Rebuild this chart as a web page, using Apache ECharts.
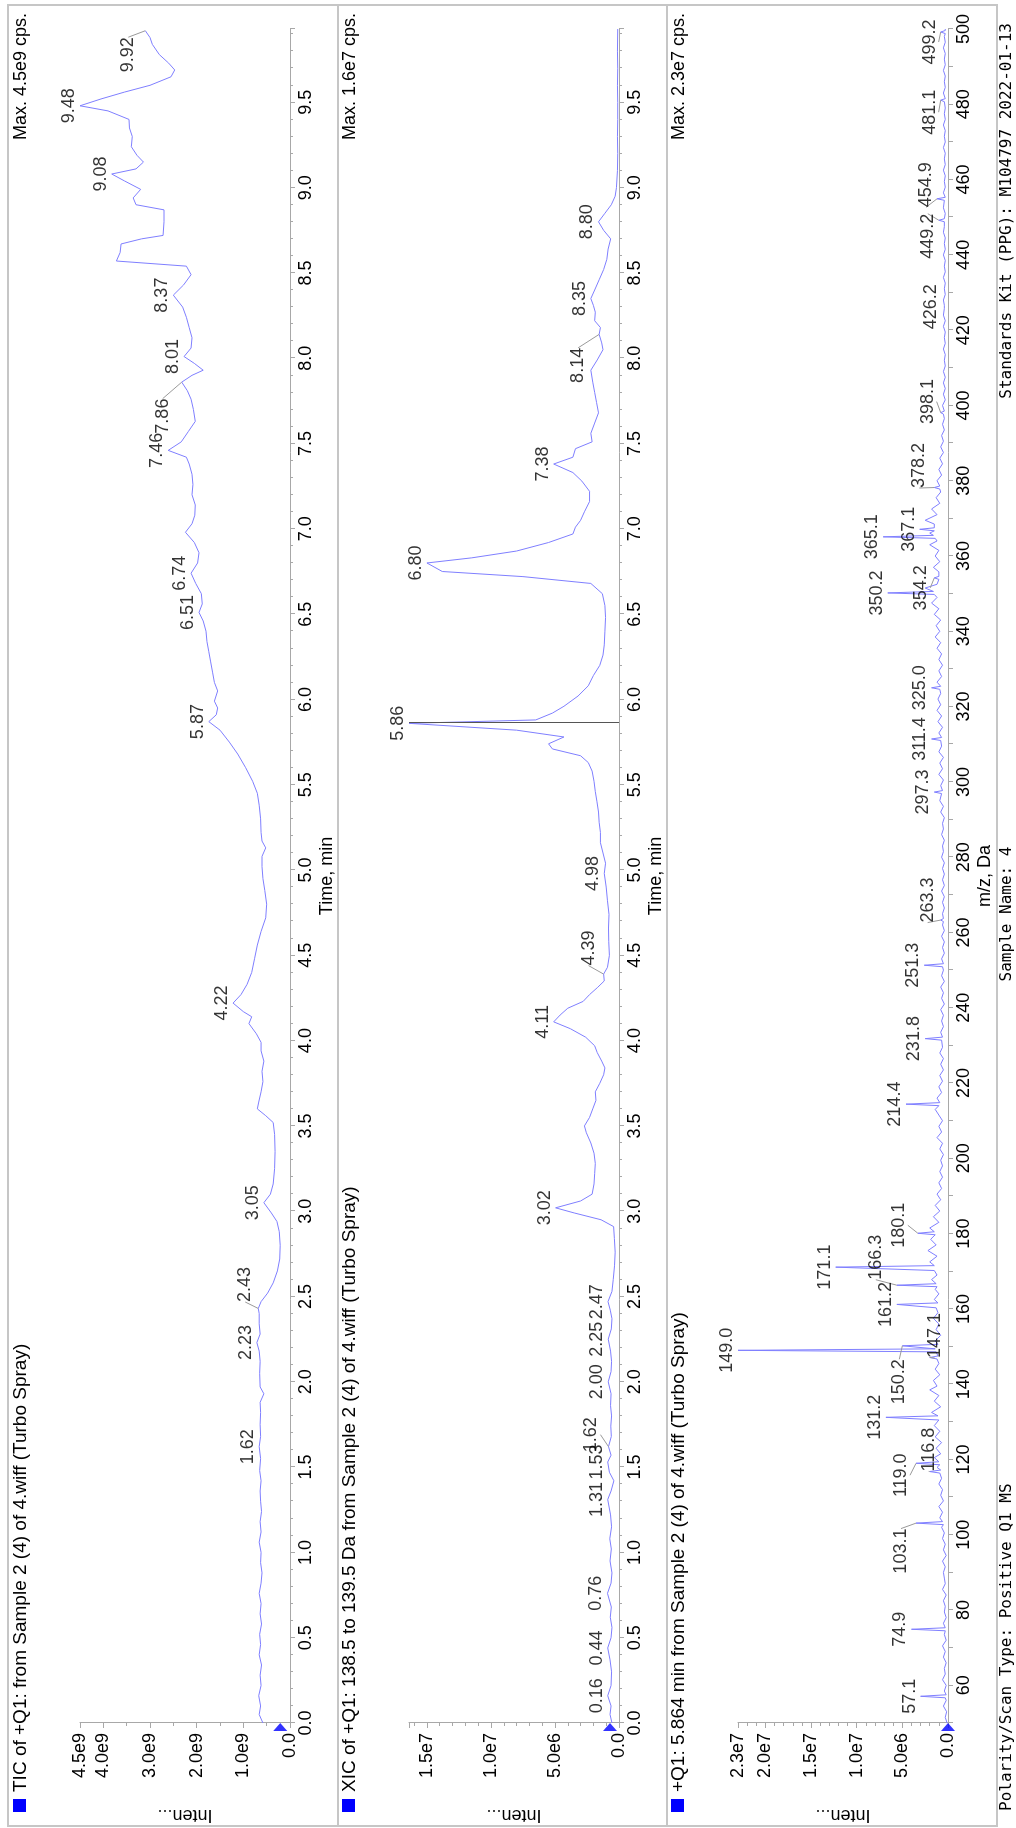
<!DOCTYPE html>
<html>
<head>
<meta charset="utf-8">
<script src="https://cdn.jsdelivr.net/npm/echarts@6/dist/echarts.min.js"></script>
<style>
  html, body { margin: 0; padding: 0; background: #fff; width: 1016px; height: 1828px; overflow: hidden; }
  /* the report is laid out landscape and turned a quarter turn counter-clockwise */
  #chart { position: absolute; left: 0; top: 0; width: 1828px; height: 1016px;
           transform-origin: 0 0; transform: translate(0, 1828px) rotate(-90deg); }
</style>
</head>
<body>
<div id="chart"></div>
<script>
// ---------------- data ----------------
const TIME_MAX = 9.93;
const SCAN_TIME = 5.864;

// TIC, intensity in 1e9 cps
const ticTrace = [
  [0.00,0.58],[0.05,0.66],[0.10,0.63],[0.16,0.67],[0.22,0.62],[0.28,0.64],[0.34,0.61],[0.40,0.66],
  [0.46,0.63],[0.52,0.65],[0.58,0.61],[0.64,0.64],[0.70,0.62],[0.76,0.66],[0.82,0.62],[0.88,0.60],
  [0.94,0.63],[1.00,0.62],[1.06,0.66],[1.12,0.62],[1.18,0.64],[1.24,0.61],[1.30,0.63],[1.36,0.64],
  [1.42,0.62],[1.48,0.65],[1.55,0.63],[1.62,0.66],[1.68,0.63],[1.75,0.64],[1.82,0.63],[1.88,0.64],
  [1.93,0.56],[1.97,0.64],[2.05,0.65],[2.12,0.64],[2.18,0.66],[2.23,0.71],[2.28,0.64],[2.34,0.66],
  [2.40,0.66],[2.43,0.68],[2.47,0.62],[2.52,0.48],[2.58,0.36],[2.65,0.27],[2.72,0.22],[2.80,0.21],
  [2.88,0.23],[2.94,0.28],[2.99,0.40],[3.05,0.56],[3.10,0.42],[3.16,0.36],[3.25,0.33],[3.35,0.32],
  [3.45,0.33],[3.52,0.36],[3.56,0.52],[3.60,0.70],[3.64,0.67],[3.70,0.62],[3.76,0.58],[3.82,0.60],
  [3.88,0.56],[3.94,0.62],[3.99,0.62],[4.04,0.72],[4.10,0.88],[4.14,0.82],[4.17,1.00],[4.22,1.22],
  [4.27,1.05],[4.33,0.92],[4.40,0.82],[4.48,0.76],[4.56,0.70],[4.64,0.62],[4.72,0.52],[4.80,0.50],
  [4.88,0.54],[4.95,0.58],[5.02,0.60],[5.08,0.60],[5.13,0.52],[5.17,0.60],[5.22,0.62],[5.30,0.63],
  [5.38,0.66],[5.45,0.70],[5.52,0.80],[5.60,0.95],[5.68,1.12],[5.75,1.30],[5.82,1.50],[5.87,1.74],
  [5.91,1.58],[5.95,1.55],[5.99,1.62],[6.05,1.55],[6.10,1.62],[6.16,1.66],[6.22,1.70],[6.28,1.74],
  [6.34,1.78],[6.40,1.80],[6.46,1.86],[6.51,1.95],[6.56,1.88],[6.62,1.90],[6.68,2.02],[6.74,2.12],
  [6.80,1.98],[6.86,1.95],[6.92,2.05],[6.98,2.24],[7.03,2.10],[7.08,2.04],[7.14,2.03],[7.20,2.10],
  [7.26,2.08],[7.32,2.10],[7.38,2.16],[7.42,2.22],[7.46,2.61],[7.51,2.33],[7.57,2.18],[7.63,2.03],
  [7.70,2.07],[7.76,2.12],[7.81,2.20],[7.86,2.32],[7.90,2.10],[7.93,1.86],[7.97,2.05],[8.01,2.27],
  [8.06,2.12],[8.12,2.10],[8.18,2.16],[8.24,2.22],[8.30,2.30],[8.37,2.50],[8.43,2.28],[8.49,2.12],
  [8.54,2.22],[8.57,3.72],[8.62,3.64],[8.67,3.62],[8.70,3.18],[8.72,2.72],[8.80,2.70],[8.87,2.70],
  [8.90,3.30],[8.94,3.36],[8.99,3.20],[9.04,3.55],[9.08,3.82],[9.11,3.30],[9.15,3.14],[9.19,3.28],
  [9.24,3.40],[9.30,3.38],[9.35,3.44],[9.40,3.45],[9.45,3.90],[9.48,4.50],[9.52,4.05],[9.56,3.55],
  [9.60,3.00],[9.65,2.55],[9.69,2.47],[9.73,2.60],[9.78,2.80],[9.84,2.95],[9.88,3.00],[9.92,3.10]
];
const ticPeaks = [1.62, 2.23, 2.43, 3.05, 4.22, 5.87, 6.51, 6.74, 7.46, 7.86, 8.01, 8.37, 9.08, 9.48, 9.92];

// XIC 138.5-139.5 Da, intensity in 1e6 cps
const xicTrace = [
  [0.00,0.55],[0.05,0.70],[0.10,0.62],[0.16,0.88],[0.22,0.62],[0.30,0.58],[0.37,0.70],[0.44,0.88],
  [0.50,0.62],[0.56,0.55],[0.62,0.68],[0.68,0.60],[0.76,0.90],[0.82,0.62],[0.88,0.55],[0.95,0.70],
  [1.02,0.60],[1.08,0.72],[1.15,0.58],[1.22,0.66],[1.31,0.88],[1.36,0.62],[1.42,0.40],[1.47,0.75],
  [1.53,0.88],[1.57,0.62],[1.62,0.82],[1.68,0.60],[1.74,0.64],[1.80,0.58],[1.86,0.66],[1.93,0.62],
  [2.00,0.84],[2.06,0.62],[2.12,0.58],[2.18,0.66],[2.25,0.84],[2.31,0.60],[2.37,0.55],[2.42,0.68],
  [2.47,0.86],[2.53,0.55],[2.60,0.45],[2.68,0.35],[2.76,0.30],[2.84,0.36],[2.91,0.42],[2.95,1.40],
  [2.99,3.50],[3.02,4.95],[3.06,3.00],[3.10,2.10],[3.16,1.95],[3.22,1.90],[3.28,1.85],[3.34,1.95],
  [3.40,2.20],[3.46,2.55],[3.50,2.70],[3.55,2.30],[3.60,2.05],[3.65,1.80],[3.70,1.85],[3.75,1.50],
  [3.80,1.20],[3.84,1.10],[3.88,1.35],[3.93,1.70],[3.97,1.90],[4.02,2.60],[4.07,3.80],[4.11,5.10],
  [4.15,4.60],[4.19,4.00],[4.23,2.80],[4.27,2.30],[4.31,1.70],[4.35,1.15],[4.39,1.20],[4.43,0.90],
  [4.50,0.75],[4.58,0.80],[4.66,0.82],[4.74,0.78],[4.82,0.90],[4.90,1.00],[4.98,1.15],[5.04,1.05],
  [5.10,1.25],[5.16,1.45],[5.22,1.45],[5.28,1.55],[5.34,1.60],[5.40,1.72],[5.46,1.85],[5.52,1.95],
  [5.58,2.10],[5.63,2.40],[5.67,3.00],[5.71,5.20],[5.74,5.50],[5.78,4.30],[5.82,8.00],[5.86,16.40],
  [5.88,6.50],[5.92,5.20],[5.96,4.30],[6.02,3.20],[6.08,2.40],[6.14,2.00],[6.20,1.50],[6.26,1.25],
  [6.32,1.15],[6.40,1.10],[6.48,1.05],[6.55,1.10],[6.62,1.30],[6.68,2.20],[6.72,7.50],[6.75,13.80],
  [6.80,15.00],[6.83,11.50],[6.87,8.00],[6.92,5.50],[6.97,3.60],[7.01,3.40],[7.05,3.00],[7.10,2.70],
  [7.16,2.30],[7.22,2.30],[7.28,2.90],[7.33,3.60],[7.38,5.10],[7.42,3.60],[7.47,3.40],[7.51,2.10],
  [7.56,2.20],[7.62,1.90],[7.68,1.60],[7.74,1.75],[7.80,1.90],[7.86,2.05],[7.93,2.20],[7.99,1.70],
  [8.05,1.25],[8.09,1.35],[8.14,1.55],[8.18,1.45],[8.22,1.90],[8.27,1.85],[8.31,2.00],[8.35,2.20],
  [8.40,1.90],[8.46,1.55],[8.52,1.20],[8.58,0.95],[8.64,0.85],[8.70,0.65],[8.75,1.20],[8.80,1.60],
  [8.85,1.10],[8.90,0.60],[8.95,0.30],[9.00,0.20],[9.10,0.12],[9.20,0.10],[9.30,0.12],[9.40,0.10],
  [9.50,0.10],[9.60,0.12],[9.70,0.10],[9.80,0.12],[9.93,0.10]
];
const xicPeaks = [0.16, 0.44, 0.76, 1.31, 1.53, 1.62, 2.00, 2.25, 2.47, 3.02, 4.11, 4.39, 4.98, 5.86, 6.80, 7.38, 8.14, 8.35, 8.80];

// Q1 spectrum at 5.864 min, intensity in 1e6 cps: labelled peaks and the rest of the profile
const msPeaks = [
  [57.1,3.0],[74.9,4.0],[103.1,3.5],[116.8,2.0],[119.0,3.5],[131.2,6.8],[147.1,2.0],[149.0,23.0],
  [150.2,5.0],[161.2,5.6],[166.3,5.6],[171.1,12.3],[180.1,3.3],[214.4,4.6],[231.8,2.5],[251.3,2.6],
  [263.3,0.8],[297.3,1.5],[311.4,1.8],[325.0,1.8],[350.2,6.6],[354.2,1.5],[365.1,7.1],[367.1,3.1],
  [378.2,1.5],[398.1,0.8],[426.2,0.6],[449.2,1.0],[454.9,1.2],[481.1,0.8],[499.2,0.8]
];
const msProfile = [
  [50.0,0.1],[51.5,0.3],[53,0.15],[54.5,0.5],[56,0.2],[56.7,0.3],[57.5,0.2],[58.5,0.4],[60,0.2],[61.5,0.6],
  [63,0.3],[64.5,0.4],[66,0.2],[67.5,0.5],[69,0.3],[70.5,0.6],[72,0.2],[73.5,0.4],[74.5,0.3],[75.3,0.3],
  [76.5,0.5],[78,0.2],[79.5,0.4],[81,0.3],[82.5,0.5],[84,0.2],[85.5,0.6],[87,0.3],[88.5,0.4],[90,0.5],
  [91.5,0.3],[93,0.6],[94.5,0.2],[96,0.5],[97.5,0.3],[99,0.6],[100.5,0.4],[102,0.7],[102.7,0.5],[103.5,0.6],
  [104.5,0.9],[106,0.6],[107.5,1.0],[109,0.5],[110.5,0.8],[112,0.6],[113.5,1.0],[115,0.7],[116.4,0.9],[117.2,0.8],
  [117.9,1.2],[118.6,0.9],[119.4,1.0],[120.5,1.5],[121.5,0.8],[123,1.3],[124.5,0.7],[126,1.4],[127.5,0.9],[129,1.5],
  [130.5,1.0],[130.8,1.2],[131.6,1.1],[132.5,1.8],[134,0.8],[135.5,1.5],[137,1.0],[138.5,2.0],[139.5,1.2],[141,1.6],
  [142.5,0.9],[144,1.4],[145.5,1.0],[146.7,1.2],[147.5,1.1],[148.6,1.3],[149.4,1.4],[149.8,1.2],[150.6,1.1],[151.5,1.4],
  [153,0.8],[154.5,1.3],[156,1.0],[157.5,1.6],[159,1.1],[160.3,1.3],[160.8,1.2],[161.6,1.1],[162.5,1.5],[164,1.0],
  [165.2,1.4],[165.9,1.2],[166.7,1.3],[167.8,1.8],[169,1.2],[170.2,1.5],[170.7,1.4],[171.5,1.5],[172.5,2.0],[174,1.2],
  [175.5,2.2],[177,1.3],[178.5,1.9],[179.7,1.4],[180.5,1.5],[181.5,2.0],[183,1.0],[184.5,1.6],[186,0.9],[187.5,1.4],
  [189,0.8],[190.5,1.2],[192,0.7],[193.5,1.0],[195,0.6],[196.5,0.9],[198,0.6],[199.5,0.8],[201,0.5],[202.5,0.9],
  [204,0.6],[205.5,1.2],[207,0.7],[208.5,1.0],[210,0.6],[211.5,1.0],[213,1.4],[214.0,1.0],[214.8,0.9],[216,1.2],
  [217.5,0.7],[219,1.0],[220.5,0.6],[222,0.9],[223.5,0.5],[225,0.8],[226.5,0.5],[228,0.9],[229.5,0.6],[231.4,0.7],
  [232.2,0.6],[233.5,0.8],[235,0.5],[236.5,0.7],[238,0.5],[239.5,0.8],[241,0.4],[242.5,0.7],[244,0.5],[245.5,0.8],
  [247,0.4],[248.5,0.7],[250,0.5],[250.9,0.6],[251.7,0.5],[253,0.7],[254.5,0.4],[256,0.6],[257.5,0.4],[259,0.7],
  [260.5,0.4],[262,0.6],[262.9,0.5],[263.7,0.5],[265,0.6],[266.5,0.4],[268,0.6],[269.5,0.4],[271,0.7],[272.5,0.4],
  [274,0.6],[275.5,0.4],[277,0.6],[278.5,0.4],[280,0.7],[281.5,0.5],[283,0.6],[284.5,0.4],[286,0.7],[287.5,0.5],
  [289,0.6],[290.5,0.4],[292,0.8],[293.5,0.5],[295,0.9],[296.9,0.7],[297.7,0.6],[299,0.8],[300.5,0.5],[302,1.0],
  [303.5,0.6],[305,0.9],[306.5,0.5],[308,1.0],[309.5,0.7],[311.0,0.8],[311.8,0.7],[313,1.0],[314.5,0.6],[316,1.1],
  [317.5,0.7],[319,1.2],[320.5,0.8],[322,1.1],[323.5,0.8],[324.6,0.9],[325.4,0.8],[326.5,1.2],[328,0.7],[329.5,1.0],
  [331,0.6],[332.5,1.0],[334,0.7],[335.5,1.2],[337,0.8],[338.5,1.4],[340,0.9],[341.5,1.3],[343,0.8],[344.5,1.5],
  [346,1.0],[347.5,1.8],[349,1.2],[349.8,1.5],[350.6,1.6],[351.5,2.5],[352.5,1.2],[353.8,1.0],[354.6,1.0],[355.8,1.0],
  [357,1.6],[358.5,0.9],[360,1.4],[361.5,1.0],[363,2.0],[364,1.2],[364.7,1.4],[365.5,1.6],[366.1,2.0],[366.7,1.5],
  [367.5,1.5],[368.5,1.5],[369.5,2.5],[371,1.2],[372.5,1.8],[374,0.9],[375.5,1.3],[377,0.8],[377.8,0.9],[378.6,0.9],
  [380,1.2],[381.5,0.7],[383,1.0],[384.5,0.6],[386,0.9],[387.5,0.5],[389,0.8],[390.5,0.5],[392,0.7],[393.5,0.4],
  [395,0.6],[396.5,0.4],[397.7,0.5],[398.5,0.4],[400,0.6],[401.5,0.3],[403,0.5],[404.5,0.3],[406,0.5],[407.5,0.3],
  [409,0.5],[410.5,0.3],[412,0.4],[413.5,0.3],[415,0.5],[416.5,0.3],[418,0.4],[419.5,0.3],[421,0.5],[422.5,0.3],
  [424,0.5],[425.8,0.4],[426.6,0.4],[428,0.5],[429.5,0.3],[431,0.4],[432.5,0.3],[434,0.5],[435.5,0.3],[437,0.4],
  [438.5,0.3],[440,0.5],[441.5,0.3],[443,0.4],[444.5,0.3],[446,0.5],[447.5,0.4],[448.8,0.4],[449.6,0.4],[451,0.3],
  [452.5,0.5],[454.5,0.4],[455.3,0.3],[456.5,0.5],[458,0.3],[459.5,0.4],[461,0.3],[462.5,0.5],[464,0.3],[465.5,0.4],
  [467,0.3],[468.5,0.5],[470,0.3],[471.5,0.4],[473,0.3],[474.5,0.5],[476,0.3],[477.5,0.4],[479,0.3],[480.7,0.4],
  [481.5,0.3],[483,0.5],[484.5,0.3],[486,0.4],[487.5,0.3],[489,0.5],[490.5,0.3],[492,0.4],[493.5,0.3],[495,0.5],
  [496.5,0.3],[498,0.4],[498.8,0.3],[499.6,0.3],[500,0.3]
];

const panelTitles = [
  'TIC of +Q1: from Sample 2 (4) of 4.wiff (Turbo Spray)',
  'XIC of +Q1: 138.5 to 139.5 Da from Sample 2 (4) of 4.wiff (Turbo Spray)',
  '+Q1: 5.864 min from Sample 2 (4) of 4.wiff (Turbo Spray)'
];
const maxNotes = ['Max. 4.5e9 cps.', 'Max. 1.6e7 cps.', 'Max. 2.3e7 cps.'];
const footerLeft = 'Polarity/Scan Type: Positive Q1 MS';
const footerMid = 'Sample Name: 4';
const footerRight = 'Standards Kit (PPG): M104797 2022-01-13';

// ---------------- layout ----------------
const W = 1828, H = 1016;
const PITCH = 329;
const GRID_LEFT = 105, GRID_RIGHT = 29, GRID_TOP = 80, GRID_H = 210;
const FONT = '"Liberation Sans", Arial, sans-serif';
const MONO = '"DejaVu Sans Mono", monospace';
const TRACE = '#7f7fff';
const AXIS = '#a8a8a8';
const FRAME = '#c6c6c6';

// label nudges (px) for crowded peak labels, drawn with a leader line
const ticNudge = { '2.43': [24, -2], '7.86': [-34, -8], '9.92': [-24, -6] };
const xicNudge = { '1.62': [12, -6], '4.39': [26, -4], '8.14': [-31, -10] };
const msNudge = {
  '103.1': [-28, -4], '116.8': [22, 10], '119.0': [-12, -4], '147.1': [22, 16], '150.2': [-36, 8],
  '166.3': [28, -10], '180.1': [8, -8], '263.3': [20, -2], '354.2': [-10, -2], '378.2': [22, -4],
  '398.1': [11, -2], '449.2': [-16, 0], '454.9': [14, 0], '481.1': [-12, 0], '499.2': [-10, 0]
};

// ---------------- helpers ----------------
const timeLabel = v => (Math.abs(v * 2 - Math.round(v * 2)) < 1e-6 ? v.toFixed(1) : '');
const sci6 = v => (v >= 10 ? (v / 10).toFixed(1) + 'e7' : v.toFixed(1) + 'e6');
const intensityLabels = [
  v => (v === 0 ? '0.0' : v.toFixed(1) + 'e9'),
  v => (v === 0 ? '0.0' : (Math.abs(v % 5) > 1e-9 ? '' : sci6(v))),
  v => (v === 0 ? '0.0' : sci6(v))
];
const intensityAxes = [
  { max: 4.5, interval: 1, minor: 2 },
  { max: 16.4, interval: 5, minor: 5 },
  { max: 23, interval: 5, minor: 5 }
];

function pointAt(trace, x) {
  const p = trace.find(q => Math.abs(q[0] - x) < 1e-9);
  return [x, p ? p[1] : 0];
}

function labelSeries(idx, trace, xs, digits, nudge) {
  const plain = [], moved = [], offs = [];
  xs.forEach(x => {
    const key = x.toFixed(digits);
    const pt = pointAt(trace, x);
    if (nudge[key]) { moved.push(pt); offs.push(nudge[key]); } else plain.push(pt);
  });
  const base = {
    type: 'scatter', xAxisIndex: idx, yAxisIndex: idx, symbol: 'circle', symbolSize: 0.1,
    itemStyle: { color: 'rgba(0,0,0,0)' }, silent: true, clip: false, z: 5,
    label: {
      show: true, position: 'top', distance: 2, color: '#000', fontSize: 18, fontFamily: FONT,
      formatter: p => p.value[0].toFixed(digits)
    }
  };
  return [
    Object.assign({}, base, { data: plain }),
    Object.assign({}, base, {
      data: moved,
      labelLayout: p => ({ dx: offs[p.dataIndex][0], dy: offs[p.dataIndex][1] }),
      labelLine: { show: true, lineStyle: { color: '#9a9a9a', width: 1 } }
    })
  ];
}

function triangle(idx, y) {
  return {
    type: 'scatter', xAxisIndex: idx, yAxisIndex: idx, data: [[idx === 2 ? 50 : 0, y]],
    symbol: 'triangle', symbolSize: [14, 8], symbolRotate: -90, symbolOffset: [-4, 0],
    itemStyle: { color: '#0000ff' }, clip: false, silent: true, z: 6
  };
}

// ---------------- option ----------------
const grids = [0, 1, 2].map(i => ({
  left: GRID_LEFT, right: GRID_RIGHT, top: GRID_TOP + PITCH * i, height: GRID_H,
  containLabel: false, outerBoundsMode: 'none'
}));

const commonX = {
  type: 'value',
  axisLine: { show: true, onZero: false, lineStyle: { color: AXIS, width: 1 } },
  axisTick: { show: true, length: 5, lineStyle: { color: AXIS } },
  splitLine: { show: false },
  axisLabel: { color: '#000', fontSize: 18, fontFamily: FONT, margin: 7 },
  nameLocation: 'middle', nameGap: 28,
  nameTextStyle: { color: '#000', fontSize: 18, fontFamily: FONT }
};

const xAxes = [0, 1].map(i => Object.assign({}, commonX, {
  gridIndex: i, min: 0, max: TIME_MAX, interval: 0.5, name: 'Time, min',
  minorTick: { show: true, splitNumber: 5, length: 3, lineStyle: { color: AXIS } },
  axisLabel: Object.assign({}, commonX.axisLabel, { formatter: timeLabel })
}));
xAxes.push(Object.assign({}, commonX, {
  gridIndex: 2, min: 50, max: 500, interval: 10, name: 'm/z, Da',
  axisLabel: Object.assign({}, commonX.axisLabel, { formatter: v => (v % 20 === 0 ? String(v) : '') })
}));

const yAxes = [0, 1, 2].map(i => ({
  type: 'value', gridIndex: i, min: 0, max: intensityAxes[i].max, interval: intensityAxes[i].interval,
  axisLine: { show: true, onZero: false, lineStyle: { color: AXIS, width: 1 } },
  axisTick: { show: true, length: 5, lineStyle: { color: AXIS } },
  minorTick: { show: true, splitNumber: intensityAxes[i].minor, length: 3, lineStyle: { color: AXIS } },
  splitLine: { show: false },
  axisLabel: { color: '#000', fontSize: 18, fontFamily: FONT, margin: 10, formatter: intensityLabels[i] },
  name: 'Inten...', nameLocation: 'middle', nameRotate: 90, nameGap: 83,
  nameTextStyle: { color: '#000', fontSize: 18, fontFamily: FONT }
}));

const lineBase = { type: 'line', symbol: 'none', smooth: false, lineStyle: { color: TRACE, width: 1 }, silent: true, z: 3 };

const msTrace = msProfile.concat(msPeaks).sort((a, b) => a[0] - b[0]);

const series = [
  Object.assign({}, lineBase, { xAxisIndex: 0, yAxisIndex: 0, data: ticTrace }),
  ...labelSeries(0, ticTrace, ticPeaks, 2, ticNudge),
  triangle(0, 0.21),
  Object.assign({}, lineBase, {
    xAxisIndex: 1, yAxisIndex: 1, data: xicTrace,
    markLine: {
      silent: true, symbol: 'none', label: { show: false },
      lineStyle: { color: '#555', width: 1, type: 'solid' },
      data: [[{ coord: [SCAN_TIME, 0] }, { coord: [SCAN_TIME, pointAt(xicTrace, 5.86)[1]] }]]
    }
  }),
  ...labelSeries(1, xicTrace, xicPeaks, 2, xicNudge),
  triangle(1, 0.7),
  Object.assign({}, lineBase, { xAxisIndex: 2, yAxisIndex: 2, data: msTrace }),
  ...labelSeries(2, msTrace, msPeaks.map(p => p[0]), 1, msNudge),
  triangle(2, 0)
];

const graphic = [
  { type: 'rect', silent: true, shape: { x: 2, y: 8, width: 1821, height: 989 }, style: { fill: 'none', stroke: FRAME, lineWidth: 2 } },
  { type: 'line', silent: true, shape: { x1: 2, y1: 338, x2: 1823, y2: 338 }, style: { stroke: FRAME, lineWidth: 2 } },
  { type: 'line', silent: true, shape: { x1: 2, y1: 667, x2: 1823, y2: 667 }, style: { stroke: FRAME, lineWidth: 2 } }
];
[0, 1, 2].forEach(i => {
  graphic.push({ type: 'rect', silent: true, shape: { x: 16, y: 13 + PITCH * i, width: 13, height: 13 }, style: { fill: '#0000ff' } });
  graphic.push({ type: 'text', silent: true, x: 36, y: 21 + PITCH * i,
    style: { text: panelTitles[i], fontSize: 19, fontFamily: FONT, fill: '#000', align: 'left', verticalAlign: 'middle' } });
  graphic.push({ type: 'text', silent: true, x: 1815, y: 21 + PITCH * i,
    style: { text: maxNotes[i], fontSize: 18, fontFamily: FONT, fill: '#000', align: 'right', verticalAlign: 'middle' } });
});
graphic.push({ type: 'text', silent: true, x: 17, y: 1007,
  style: { text: footerLeft, fontSize: 16, fontFamily: MONO, fill: '#000', align: 'left', verticalAlign: 'middle' } });
graphic.push({ type: 'text', silent: true, x: 914, y: 1007,
  style: { text: footerMid, fontSize: 16, fontFamily: MONO, fill: '#000', align: 'center', verticalAlign: 'middle' } });
graphic.push({ type: 'text', silent: true, x: 1805, y: 1007,
  style: { text: footerRight, fontSize: 16, fontFamily: MONO, fill: '#000', align: 'right', verticalAlign: 'middle' } });

const chart = echarts.init(document.getElementById('chart'), null, { renderer: 'canvas', width: W, height: H });
chart.setOption({
  animation: false,
  backgroundColor: '#fff',
  textStyle: { fontFamily: FONT },
  grid: grids,
  xAxis: xAxes,
  yAxis: yAxes,
  series: series,
  graphic: graphic
});
</script>
</body>
</html>
